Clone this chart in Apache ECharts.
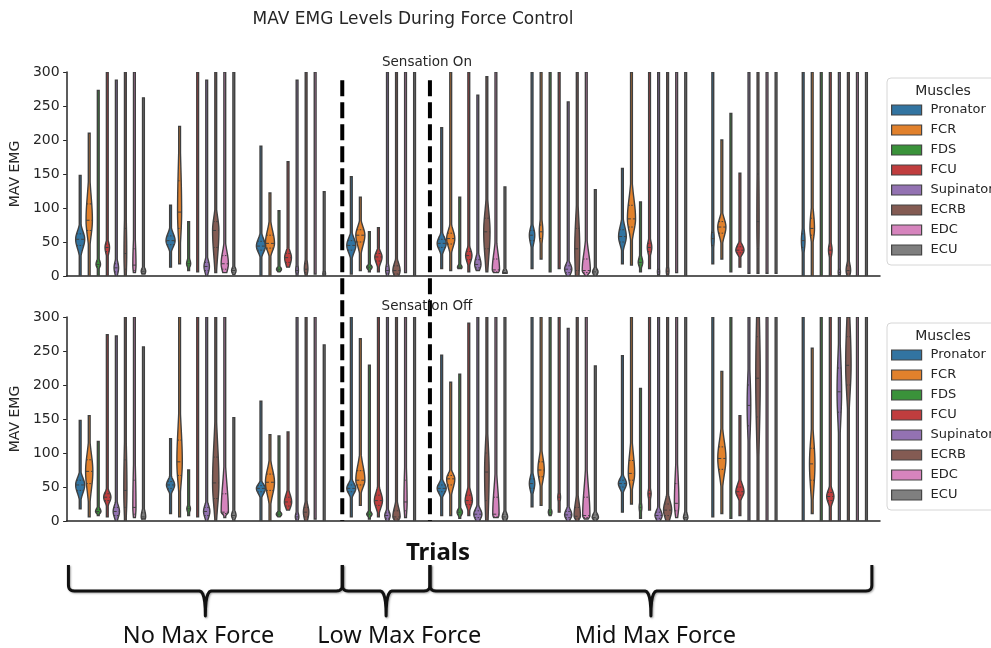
<!DOCTYPE html>
<html><head><meta charset="utf-8">
<script src="https://cdn.jsdelivr.net/npm/echarts@6/dist/echarts.min.js"></script>
<style>html,body{margin:0;padding:0;background:#fff}#c{width:991px;height:648px}</style>
</head><body><div id="c"></div>
<script>
const trials = ['Trial 1','Trial 2','Trial 3','Trial 4','Trial 5','Trial 6','Trial 7','Trial 8','Trial 9'];
const muscles = ['Pronator','FCR','FDS','FCU','Supinator','ECRB','EDC','ECU'];
const muscleColors = ['#3274a1','#e1812c','#3a923a','#c03d3e','#9372b2','#845b53','#d684bd','#7f7f7f'];
const yTicks = [0, 50, 100, 150, 200, 250, 300];
const groupLabels = ['No Max Force', 'Low Max Force', 'Mid Max Force'];
// group boundaries in trial-band units from the left edge of the axis
const groupBounds = [0.02, 3.05, 4.02, 8.91];
// label centres in trial-band units
const groupLabelPos = [1.46, 3.68, 6.514];

// each violin: [low end, q1, median, q3, high end, relative body width]
// Sensation On
const onPronator = [[0,45,54,62,148,1.0],[13,46,52,59,104,1.0],[0,38,44,51,191,1.0],[3,38,45,52,146,1.0],[11,42,48,54,218,1.0],[11,52,60,67,310,0.6],[18,50,58,68,158,0.85],[18,45,55,64,310,0.3],[0,42,52,62,310,0.4]];
const onFCR = [[0,67,82,106,210,0.7],[18,70,94,140,220,0.45],[0,41,48,60,122,1.0],[8,50,60,68,116,1.0],[8,47,55,63,310,0.9],[25,55,65,75,310,0.4],[16,72,84,104,310,0.9],[25,63,72,80,200,0.9],[0,60,70,85,310,0.5]];
const onFDS = [[0,14,17,21,273,0.5],[8,15,18,22,80,0.45],[6,8,10,12,96,0.55],[6,11,13,15,65,0.6],[11,11,13,15,116,0.5],[6,15,20,25,310,0.1],[6,16,20,25,109,0.5],[6,15,20,25,239,0.1],[0,15,20,25,310,0.12]];
const onFCU = [[0,36,42,47,310,0.5],[6,22,30,40,310,0.15],[13,20,27,33,168,0.75],[6,22,28,33,71,0.8],[6,24,30,36,310,0.7],[11,20,30,40,310,0.1],[11,36,42,48,310,0.5],[13,34,38,43,151,0.9],[0,32,38,44,310,0.4]];
const onSupinator = [[0,6,12,18,288,0.5],[0,8,14,20,288,0.6],[0,4,8,14,288,0.3],[0,4,8,14,310,0.4],[8,12,17,24,266,0.7],[0,5,10,15,256,0.8],[0,2,6,10,310,0.25],[4,10,20,30,310,0.1],[0,2,5,10,310,0.25]];
const onECRB = [[0,10,33,70,310,0.3],[5,42,67,80,310,0.7],[0,5,10,18,310,0.4],[0,3,8,15,310,0.8],[6,40,65,85,293,0.7],[0,8,40,70,310,0.55],[0,3,7,12,310,0.3],[4,40,80,150,310,0.25],[0,3,8,15,310,0.5]];
const onEDC = [[5,8,16,40,310,0.35],[5,10,18,30,310,0.8],[3,10,20,30,310,0.15],[5,10,30,60,310,0.2],[5,6,9,25,310,0.8],[0,5,8,25,310,0.9],[5,10,20,30,310,0.1],[4,10,20,30,310,0.1],[0,10,20,30,310,0.1]];
const onECU = [[3,4,7,10,262,0.5],[2,5,8,11,310,0.5],[0,1,3,6,124,0.3],[0,5,10,20,310,0.1],[4,3,5,8,131,0.5],[0,3,6,9,127,0.6],[0,5,10,20,310,0.1],[4,5,10,20,310,0.1],[0,5,10,20,310,0.1]];
// Sensation Off
const offPronator = [[18,45,53,60,148,1.0],[11,48,53,58,121,0.9],[0,43,48,52,176,1.0],[6,43,48,53,310,1.0],[8,43,48,53,244,1.0],[21,48,55,62,310,0.6],[13,50,55,60,243,0.9],[6,40,50,60,310,0.1],[0,40,50,60,310,0.1]];
const offFCR = [[6,55,73,90,155,0.8],[6,67,87,119,310,0.6],[0,45,57,69,127,1.0],[23,53,60,74,268,1.0],[8,53,62,67,204,0.9],[23,65,75,87,310,0.7],[25,60,70,89,310,0.7],[11,76,92,109,220,0.9],[11,60,84,107,254,0.6]];
const offFDS = [[8,12,14,17,117,0.6],[8,15,18,21,75,0.4],[6,8,10,12,125,0.6],[3,8,10,12,229,0.6],[4,10,13,16,216,0.6],[8,10,13,16,310,0.4],[4,15,20,25,195,0.3],[4,15,20,25,310,0.1],[0,15,20,25,310,0.1]];
const offFCU = [[6,30,35,40,274,0.8],[6,28,35,42,310,0.15],[16,22,28,35,131,0.8],[6,23,30,38,310,0.9],[8,24,30,38,291,0.8],[13,30,35,40,310,0.3],[16,35,40,45,310,0.35],[8,38,43,50,155,0.9],[0,30,36,42,310,0.8]];
const offSupinator = [[0,8,14,20,272,0.7],[0,8,14,20,310,0.7],[0,3,6,10,310,0.4],[0,4,8,12,310,0.6],[0,5,10,15,310,0.9],[0,5,9,14,283,0.8],[0,4,8,13,310,0.8],[0,140,170,200,310,0.4],[0,160,190,225,310,0.5]];
const offECRB = [[0,20,45,90,310,0.35],[0,33,56,94,310,0.7],[0,6,13,20,310,0.6],[0,3,6,15,310,0.8],[0,30,72,100,310,0.5],[0,4,7,20,310,0.7],[0,8,16,25,310,0.9],[0,153,210,271,310,0.5],[0,200,229,271,310,0.6]];
const offEDC = [[5,10,20,60,310,0.35],[5,11,13,40,310,0.8],[3,8,11,20,310,0.2],[5,15,28,60,310,0.35],[5,6,10,35,310,0.7],[3,5,8,35,310,0.8],[5,15,26,55,310,0.5],[0,10,20,30,310,0.1],[0,10,20,30,310,0.1]];
const offECU = [[3,3,6,12,256,0.5],[0,5,8,12,152,0.5],[0,5,10,15,259,0.15],[0,5,10,20,310,0.1],[0,3,6,10,310,0.6],[0,3,5,9,228,0.7],[0,3,5,9,310,0.5],[0,5,10,20,310,0.1],[0,5,10,20,310,0.1]];

const onSets = [onPronator, onFCR, onFDS, onFCU, onSupinator, onECRB, onEDC, onECU];
const offSets = [offPronator, offFCR, offFDS, offFCU, offSupinator, offECRB, offEDC, offECU];

const FONT = 'DejaVu Sans';
const INK = '#262626';
const EDGE = '#404040';

function renderViolin(params, api) {
  const cat = api.value(0), mi = api.value(1);
  const lo = api.value(2), q1 = api.value(3), med = api.value(4), q3 = api.value(5), hi = api.value(6), w = api.value(7);
  const band = api.size([1, 0])[0];
  const slot = band * 0.8 / muscles.length;
  const cx = api.coord([cat, 0])[0] + (mi - (muscles.length - 1) / 2) * slot;
  const maxHW = slot * 0.5;
  const tail = 0.9;
  const sLo = Math.max((med - q1) / 0.674, 2.5);
  const sHi = Math.max((q3 - med) / 0.674, 2.5);
  const bot = lo, top = Math.min(hi, 300);
  const hwAt = v => { const z = v < med ? (v - med) / sLo : (v - med) / sHi; return Math.max(tail, maxHW * w * Math.exp(-0.5 * z * z)); };
  const N = 150, R = [], L = [];
  for (let i = 0; i <= N; i++) {
    const v = bot + (top - bot) * i / N;
    const y = api.coord([cat, v])[1];
    const hw = hwAt(v);
    R.push([cx + hw, y]); L.push([cx - hw, y]);
  }
  const pts = R.concat(L.reverse());
  const children = [{type: 'polygon', shape: {points: pts}, style: {fill: api.visual('color'), stroke: EDGE, lineWidth: 1.4}}];
  if (w >= 0.25) {
    [[q1, [1.5, 1.5]], [med, [3.5, 2]], [q3, [1.5, 1.5]]].forEach(([q, dash]) => {
      if (q < bot || q > top) return;
      const y = api.coord([cat, q])[1], hw = hwAt(q);
      children.push({type: 'line', shape: {x1: cx - hw, y1: y, x2: cx + hw, y2: y}, style: {stroke: EDGE, lineWidth: 1, lineDash: dash}});
    });
  }
  return {type: 'group', children};
}

const grids = [{left: 66, right: 111, top: 72, height: 204}, {left: 66, right: 111, top: 317, height: 204}];
const xAxes = grids.map((g, i) => ({
  type: 'category', gridIndex: i, data: trials, boundaryGap: true,
  axisLine: {lineStyle: {color: INK, width: 1.5}},
  axisTick: {alignWithLabel: true, length: 5, lineStyle: {color: INK, width: 1.3}},
  axisLabel: {show: false}, splitLine: {show: false}
}));
const yAxes = grids.map((g, i) => ({
  type: 'value', gridIndex: i, min: yTicks[0], max: yTicks[yTicks.length - 1], interval: yTicks[1] - yTicks[0],
  name: 'MAV EMG', nameLocation: 'middle', nameGap: 39,
  nameTextStyle: {fontFamily: FONT, fontSize: 14, color: INK},
  axisLine: {show: true, lineStyle: {color: INK, width: 1.5}},
  axisTick: {show: true, length: 3.5, lineStyle: {color: INK}},
  axisLabel: {fontFamily: FONT, fontSize: 14, color: INK, margin: 7},
  splitLine: {show: false}
}));

const series = [];
[onSets, offSets].forEach((sets, panel) => {
  sets.forEach((arr, mi) => {
    series.push({
      type: 'custom', name: muscles[mi], xAxisIndex: panel, yAxisIndex: panel, clip: true,
      itemStyle: {color: muscleColors[mi]},
      renderItem: renderViolin,
      encode: {x: 0, y: [2, 6]},
      data: arr.map((v, ti) => [ti, mi].concat(v)),
      silent: true
    });
  });
});

const legends = [78, 323].map(top => ({
  data: muscles, orient: 'vertical', left: 887, top: top,
  padding: [25, 60, 8, 4], itemWidth: 30, itemHeight: 10, itemGap: 6, icon: 'rect',
  textStyle: {fontFamily: FONT, fontSize: 13, color: INK, lineHeight: 14, padding: [0, 0, 0, 4]},
  borderColor: '#d6d6d6', borderWidth: 1, borderRadius: 4,
  itemStyle: {borderColor: '#444', borderWidth: 1.2},
  selectedMode: false
}));

const chart = echarts.init(document.getElementById('c'), null, {renderer: 'canvas'});
chart.setOption({
  backgroundColor: '#fff', animation: false,
  grid: grids, xAxis: xAxes, yAxis: yAxes, legend: legends, series: series
});

function quad(p0, c, p1, n) {
  const out = [];
  for (let i = 1; i <= n; i++) {
    const t = i / n, a = (1 - t) * (1 - t), b = 2 * (1 - t) * t, d = t * t;
    out.push([a * p0[0] + b * c[0] + d * p1[0], a * p0[1] + b * c[1] + d * p1[1]]);
  }
  return out;
}

function addAnnotations() {
  const c0 = chart.convertToPixel({xAxisIndex: 0}, trials[0]);
  const c1 = chart.convertToPixel({xAxisIndex: 0}, trials[1]);
  const band = c1 - c0, left = c0 - band / 2;
  const px = u => left + u * band;
  const yTopDash = chart.convertToPixel({yAxisIndex: 0}, 288);
  const yBotDash = chart.convertToPixel({yAxisIndex: 1}, 0);
  const g = [];
  const text = (t, x, y, size, extra) => g.push({type: 'text', x: x, y: y, z: 20, style: Object.assign({text: t, fontFamily: FONT, fontSize: size, fill: INK, align: 'center', verticalAlign: 'middle'}, extra || {})});
  text('MAV EMG Levels During Force Control', 413, 20, 17);
  text('Sensation On', 427, 62, 13.5);
  text('Sensation Off', 427, 306, 13.5);
  text('Muscles', 943, 91, 14);
  text('Muscles', 943, 336, 14);
  [groupBounds[1], groupBounds[2]].forEach(u => {
    const x = px(u);
    g.push({type: 'line', z: 10, shape: {x1: x, y1: yTopDash, x2: x, y2: yBotDash}, style: {stroke: '#000', lineWidth: 4, lineDash: [16, 6]}});
  });
  text('Trials', 438, 553, 24, {fontFamily: 'Noto Sans', fontWeight: 'bold', fill: '#111'});
  const yTop = 565, yMid = 591, yTip = 616;
  for (let k = 0; k < 3; k++) {
    const x0 = px(groupBounds[k]), x1 = px(groupBounds[k + 1]);
    const xm = (x0 + x1) / 2, r = 6;
    let pts = [[x0, yTop], [x0, yMid - r]];
    pts = pts.concat(quad([x0, yMid - r], [x0, yMid], [x0 + r, yMid], 6));
    pts.push([xm - r, yMid]);
    pts = pts.concat(quad([xm - r, yMid], [xm, yMid], [xm, yTip], 6));
    pts = pts.concat(quad([xm, yTip], [xm, yMid], [xm + r, yMid], 6));
    pts.push([x1 - r, yMid]);
    pts = pts.concat(quad([x1 - r, yMid], [x1, yMid], [x1, yMid - r], 6));
    pts.push([x1, yTop]);
    g.push({type: 'polyline', shape: {points: pts}, style: {fill: null, stroke: '#111', lineWidth: 3, lineJoin: 'round', shadowColor: 'rgba(0,0,0,0.35)', shadowBlur: 2, shadowOffsetX: 1, shadowOffsetY: 1}});
    text(groupLabels[k], px(groupLabelPos[k]), 636, 23.5, {fontFamily: 'Noto Sans', fill: '#111'});
  }
  chart.setOption({graphic: g});
}
addAnnotations();
</script>
</body></html>
